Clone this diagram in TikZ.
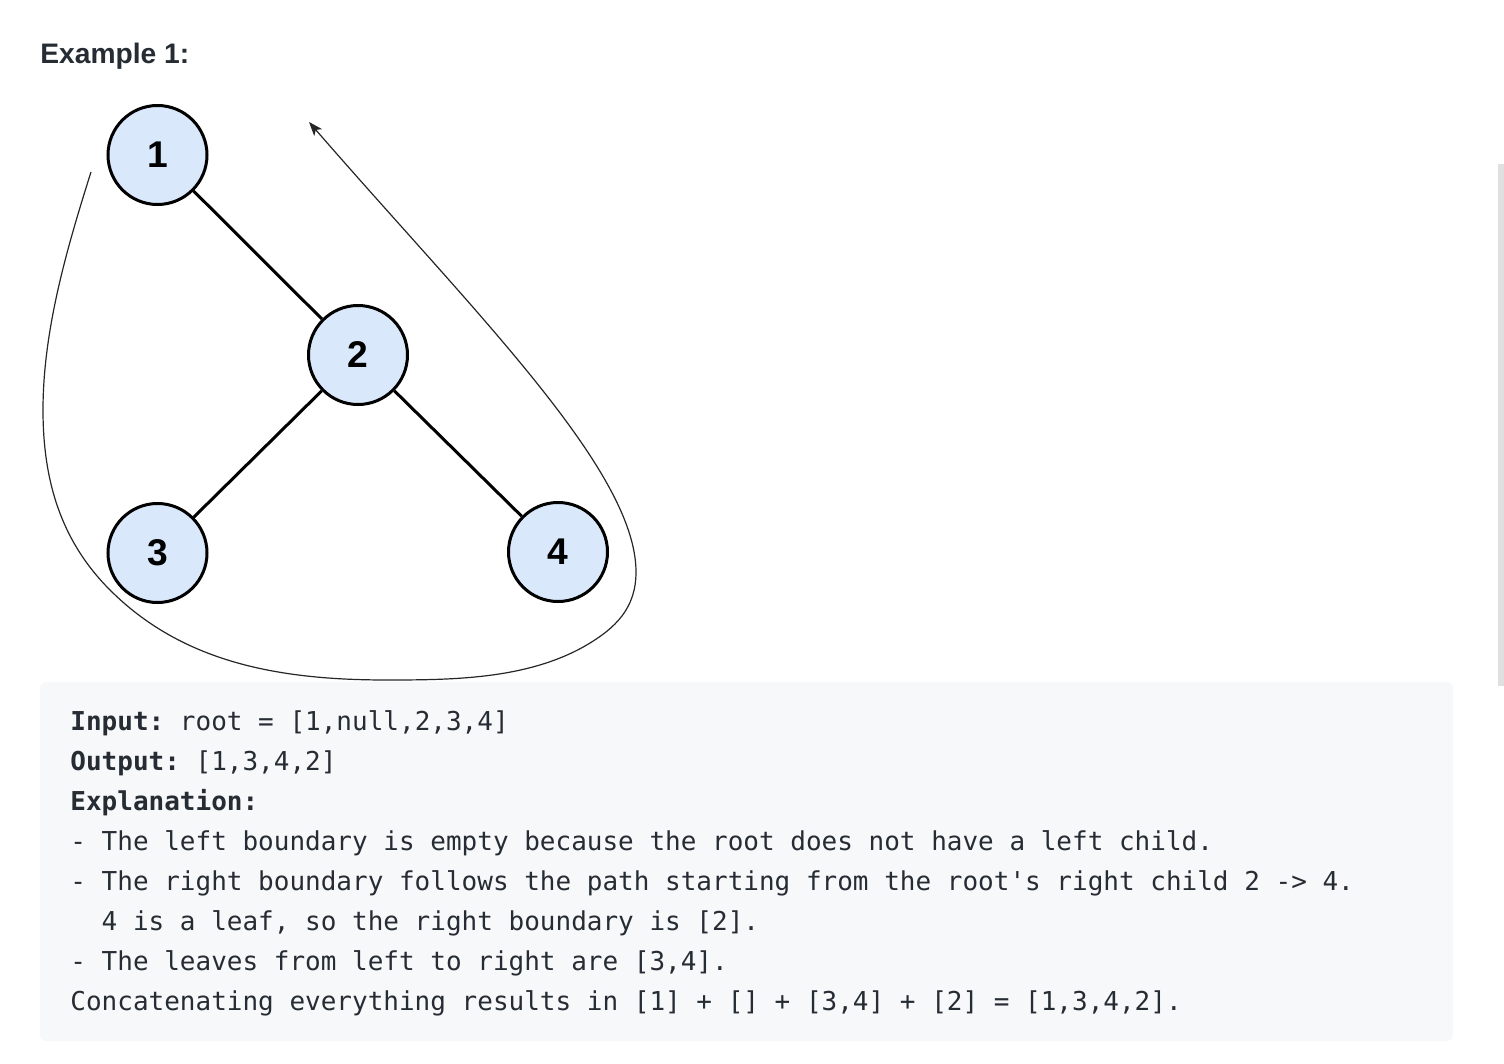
\documentclass[tikz,border=0pt]{standalone}
\usepackage{fontspec}
\setmainfont{Liberation Sans}
\newfontfamily\codefont{DejaVu Sans Mono}
\usetikzlibrary{arrows.meta}
\definecolor{nodefill}{HTML}{DAE8FC}
\definecolor{txt}{HTML}{262C33}
\definecolor{codebg}{HTML}{F7F8FA}
\definecolor{barcol}{HTML}{E0E0E0}
\tikzset{
  treenode/.style={circle, draw=black, line width=1.5pt, fill=nodefill,
    minimum size=49.5pt, inner sep=0pt,
    font=\fontsize{18.6}{18.6}\selectfont\bfseries},
  treeedge/.style={line width=1.5pt, draw=black},
  codeline/.style={anchor=base west, inner sep=0pt, text=txt,
    font=\codefont\fontsize{13}{13}\selectfont\frenchspacing},
  tour/.style={line width=0.6pt, draw=black!85,
    -{Stealth[length=7pt,width=5.2pt,inset=1.8pt]}}
}
\begin{document}
\begin{tikzpicture}[x=0.5pt,y=-0.5pt]
\useasboundingbox (0,0) rectangle (1504,1064);
% title
\node[anchor=base west, inner sep=0pt, text=txt,
  font=\fontsize{14.1}{14.1}\selectfont\bfseries] (title) at (40,64) {Example 1:};
% scrollbar
\fill[barcol] (1498,164) rectangle (1504,686);
% code box
\fill[codebg, rounded corners=3pt] (40,682) rectangle (1453,1041);
% tree
\node[treenode] (n1) at (157.5,155) {1};
\node[treenode] (n2) at (358,355) {2};
\node[treenode] (n3) at (157.5,553) {3};
\node[treenode] (n4) at (558,552) {4};
\draw[treeedge] (n1) -- (n2);
\draw[treeedge] (n2) -- (n3);
\draw[treeedge] (n2) -- (n4);
% boundary tour
\coordinate (ta) at (91,172);
\coordinate (tb) at (43,410);
\coordinate (tc) at (110,590);
\coordinate (td) at (387,680);
\coordinate (te) at (585,646);
\coordinate (tf) at (636,572);
\coordinate (ti) at (309,122);
\draw[tour] (ta)
  .. controls (67,248) and (43,330) .. (tb)
  .. controls (43,480) and (60.5,540.5) .. (tc)
  .. controls (184,664) and (282,680) .. (td)
  .. controls (454,680) and (527,679) .. (te)
  .. controls (616,628) and (636,608) .. (tf)
  .. controls (636,470) and (473,311) .. (ti);
% code text
\node[codeline] (l1) at (70,730) {\textbf{Input:} root = [1,null,2,3,4]};
\node[codeline] (l2) at (70,770) {\textbf{Output:} [1,3,4,2]};
\node[codeline] (l3) at (70,810) {\textbf{Explanation:}};
\node[codeline] (l4) at (70,850) {- The left boundary is empty because the root does not have a left child.};
\node[codeline] (l5) at (70,890) {- The right boundary follows the path starting from the root's right child 2 -> 4.};
\node[codeline] (l6) at (70,930) {\ \ 4 is a leaf, so the right boundary is [2].};
\node[codeline] (l7) at (70,970) {- The leaves from left to right are [3,4].};
\node[codeline] (l8) at (70,1010) {Concatenating everything results in [1] + [] + [3,4] + [2] = [1,3,4,2].};
\end{tikzpicture}
\end{document}
